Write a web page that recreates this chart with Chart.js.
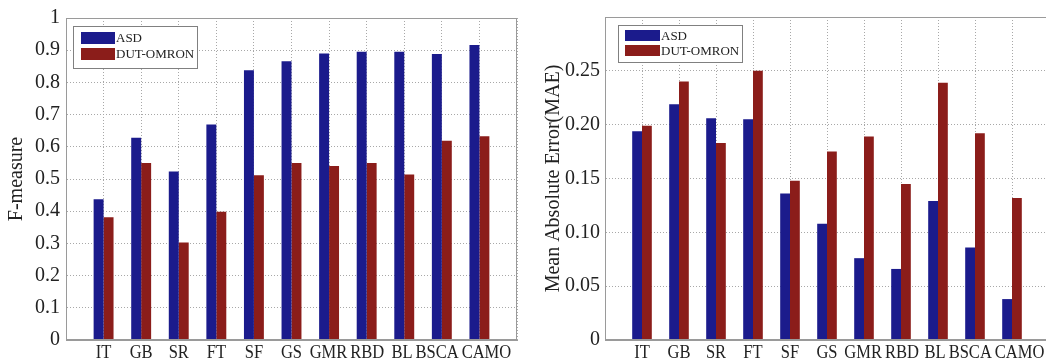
<!DOCTYPE html>
<html>
<head>
<meta charset="utf-8">
<script src="https://cdn.jsdelivr.net/npm/chart.js@4"></script>
<style>
    html, body { margin: 0; padding: 0; background: #fff; }
    body { width: 1046px; height: 362px; overflow: hidden; position: relative; }
    canvas { position: absolute; top: 0; }
    #grafico-f   { left: 0; }
    #grafico-mae { left: 525px; }
</style>
</head>
<body>
<canvas id="grafico-f" width="525" height="362"></canvas>
<canvas id="grafico-mae" width="540" height="362"></canvas>
<script>
const categorias = ['IT', 'GB', 'SR', 'FT', 'SF', 'GS', 'GMR', 'RBD', 'BL', 'BSCA', 'CAMO'];
const series     = ['ASD', 'DUT-OMRON'];

const fAsd   = [0.437, 0.628, 0.523, 0.669, 0.838, 0.866, 0.890, 0.895, 0.895, 0.888, 0.916];
const fDut   = [0.381, 0.550, 0.303, 0.398, 0.512, 0.550, 0.540, 0.550, 0.514, 0.619, 0.633];
const maeAsd = [0.194, 0.219, 0.206, 0.205, 0.136, 0.108, 0.076, 0.066, 0.129, 0.086, 0.038];
const maeDut = [0.199, 0.240, 0.183, 0.250, 0.148, 0.175, 0.189, 0.145, 0.239, 0.192, 0.132];

const AZUL     = '#1b1b8c';
const VERMELHO = '#8b1d1a';
const GRADE    = '#a8a8a8';
const FONTE    = "'Liberation Serif', 'Times New Roman', serif";

// matlab style: one empty unit on each side of the groups
const rotulos = ['', ...categorias, ''];
const pad = arr => [null, ...arr, null];

// legend box + solid frame + condensed x labels
const molduraPlugin = {
    id: 'moldura',
    afterDatasetsDraw(chart, args, opts) {
        const { ctx, chartArea: a, scales } = chart;

        // x labels, pushed apart when they collide
        ctx.save();
        ctx.font = `19px ${FONTE}`;
        ctx.fillStyle = '#222';
        ctx.textAlign = 'center';
        ctx.textBaseline = 'alphabetic';
        const k = 0.87;
        const pos = categorias.map((_, i) => scales.x.getPixelForValue(i + 1));
        const larg = categorias.map(c => ctx.measureText(c).width * k);
        for (let it = 0; it < 4; it++) {
            for (let i = 0; i < pos.length - 1; i++) {
                const sobra = (pos[i] + larg[i] / 2 + 3) - (pos[i + 1] - larg[i + 1] / 2);
                if (sobra > 0) { pos[i] -= sobra / 2; pos[i + 1] += sobra / 2; }
            }
        }
        categorias.forEach((c, i) => {
            ctx.save();
            ctx.translate(pos[i], a.bottom + 18);
            ctx.scale(k, 1);
            ctx.fillText(c, 0, 0);
            ctx.restore();
        });
        ctx.restore();

        // frame
        ctx.save();
        ctx.setLineDash([]);
        ctx.strokeStyle = '#9a9a9a';
        ctx.lineWidth = 1;
        ctx.strokeRect(a.left + 0.5, a.top + 0.5, a.right - a.left - 1, a.bottom - a.top - 1);
        ctx.restore();

        // legend
        const bx = a.left + opts.dx, by = a.top + opts.dy;
        ctx.save();
        ctx.setLineDash([]);
        ctx.fillStyle = '#fff';
        ctx.fillRect(bx, by, opts.w, opts.h);
        ctx.strokeStyle = '#808080';
        ctx.strokeRect(bx + 0.5, by + 0.5, opts.w, opts.h);
        ctx.font = `13px ${FONTE}`;
        ctx.textBaseline = 'middle';
        chart.data.datasets.forEach((ds, i) => {
            const sy = by + opts.sy + i * opts.gap;
            ctx.fillStyle = ds.backgroundColor;
            ctx.fillRect(bx + opts.sx, sy, opts.sw, opts.sh);
            ctx.fillStyle = '#222';
            ctx.fillText(ds.label, bx + opts.sx + opts.sw + 1, sy + opts.sh / 2 + 1);
        });
        ctx.restore();
    }
};

function criarGrafico(id, asd, dut, cfg) {
    const grade = { color: GRADE, drawTicks: false, tickLength: 0, borderDash: [1, 2] };
    const borda = { display: true, color: '#9a9a9a', width: 1, dash: [1, 2] };
    return new Chart(document.getElementById(id), {
        type: 'bar',
        data: {
            labels: rotulos,
            datasets: [
                { label: series[0], data: pad(asd), backgroundColor: AZUL },
                { label: series[1], data: pad(dut), backgroundColor: VERMELHO },
            ]
        },
        options: {
            responsive: false,
            animation: false,
            categoryPercentage: 0.53,
            barPercentage: 1.0,
            layout: { padding: { top: cfg.topo, right: cfg.direita, left: 0, bottom: 0 } },
            plugins: {
                legend: { display: false },
                tooltip: { enabled: false },
                moldura: cfg.legenda,
            },
            scales: {
                x: {
                    offset: false,
                    grid: { ...grade, offset: false },
                    border: borda,
                    ticks: { display: false, autoSkip: false },
                    afterFit: s => { s.height = 22; }
                },
                y: {
                    min: 0,
                    max: cfg.max,
                    ticks: {
                        stepSize: cfg.passo,
                        padding: cfg.padTick,
                        color: '#222',
                        font: { family: FONTE, size: 20 },
                        callback: cfg.fmt
                    },
                    grid: grade,
                    border: borda,
                    title: {
                        display: true,
                        text: cfg.titulo,
                        color: '#222',
                        font: { family: FONTE, size: 20 },
                        padding: { top: cfg.padTitulo, bottom: 0 }
                    },
                    afterFit: s => { s.width = cfg.largY; }
                }
            }
        },
        plugins: [molduraPlugin]
    });
}

criarGrafico('grafico-f', fAsd, fDut, {
    titulo: 'F-measure',
    max: 1, passo: 0.1,
    fmt: v => (Math.abs(v) < 1e-9 ? '0' : Math.abs(v - 1) < 1e-9 ? '1' : Number(v).toFixed(1)),
    topo: 16, direita: 8, largY: 66, padTick: 6, padTitulo: 5,
    legenda: { dx: 7, dy: 8, w: 124, h: 42, sx: 8, sy: 6, sw: 34, sh: 12, gap: 16 }
});

criarGrafico('grafico-mae', maeAsd, maeDut, {
    titulo: 'Mean Absolute Error(MAE)',
    max: 0.3, passo: 0.05,
    fmt: v => (Math.abs(v) < 1e-9 ? '0' : v > 0.29 ? '' : Number(v).toFixed(2)),
    topo: 14, direita: 16, largY: 80, padTick: 5, padTitulo: 17,
    legenda: { dx: 13, dy: 8, w: 124, h: 37, sx: 7, sy: 5, sw: 35, sh: 11, gap: 15 }
});
</script>
</body>
</html>
